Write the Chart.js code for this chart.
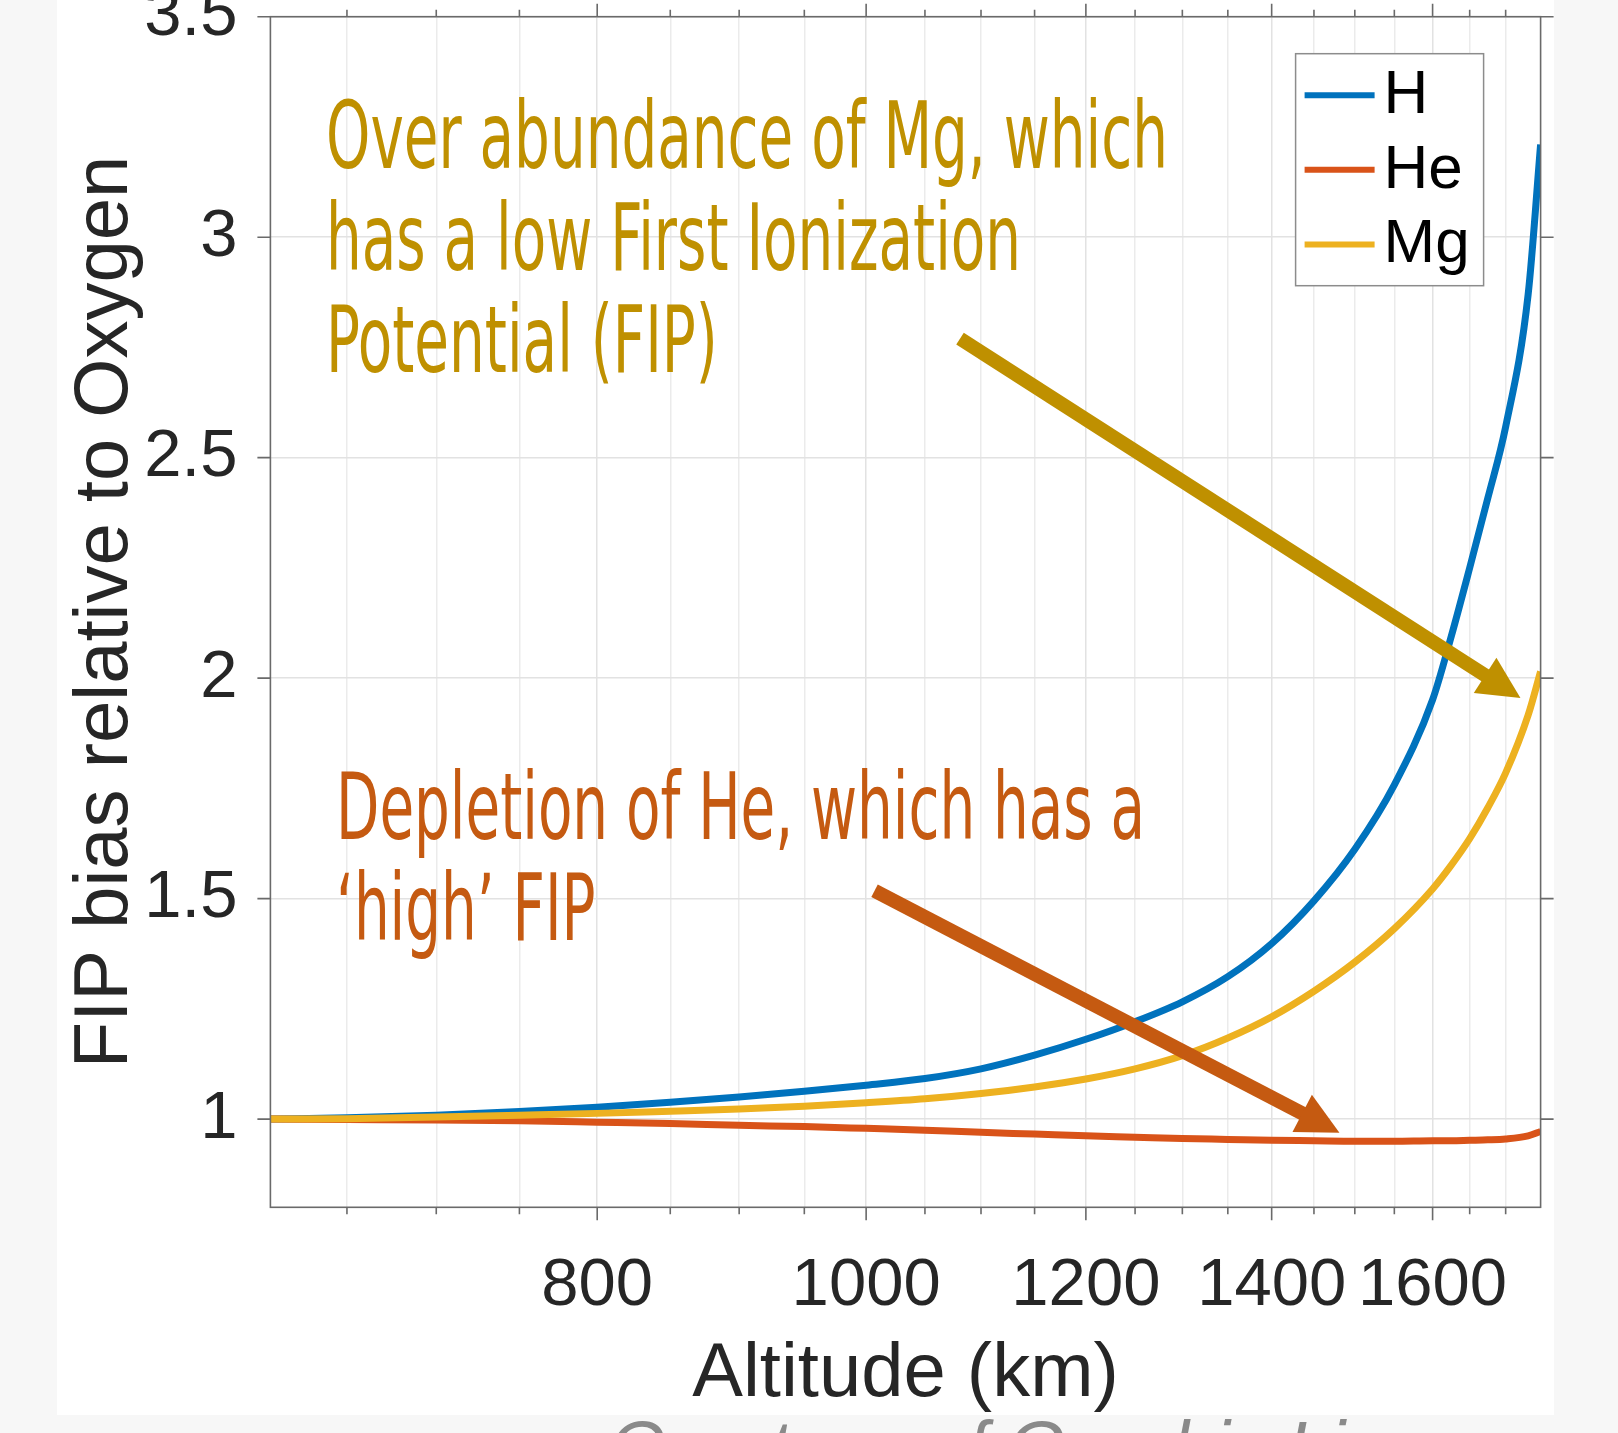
<!DOCTYPE html>
<html>
<head>
<meta charset="utf-8">
<script src="https://cdn.jsdelivr.net/npm/chart.js@4.4.1/dist/chart.umd.min.js"></script>
<style>
  html, body { margin: 0; padding: 0; }
  body { width: 1618px; height: 1433px; background: #f7f7f7; position: relative; overflow: hidden;
         font-family: "Liberation Sans", Arial, sans-serif; }
  #panel { position: absolute; left: 57px; top: 0; width: 1497px; height: 1415px; background: #fff; }
  #wrap { position: absolute; left: 0; top: 0; width: 1618px; height: 1433px; }
  .note { position: absolute; white-space: pre; font-family: "Liberation Sans Narrow", "DejaVu Sans Condensed", sans-serif;
          font-size: 93px; transform-origin: 0 0; z-index: 2; }
  #noteMg { color: #bf9000; left: 326px; top: 85px; line-height: 102px; }
  #noteHe { color: #c55a11; left: 336px; top: 757px; line-height: 101px; }
  #credit { position: absolute; left: 609px; top: 1412px; line-height: 72px; font-size: 74px; font-style: italic; color: #8a8a8a; }
</style>
</head>
<body>
<div id="panel"></div>
<div id="wrap"><canvas id="fipChart"></canvas></div>
<div id="noteMg" class="note"><span>Over abundance of Mg, which</span><br><span>has a low First Ionization</span><br><span>Potential (FIP)</span></div>
<div id="noteHe" class="note"><span>Depletion of He, which has a</span><br><span>‘high’ FIP</span></div>
<div id="credit">Courtesy of Graphic Li</div>
<script>
// altitude grid (km) and FIP bias of each element
const altitude = [610, 650, 700, 750, 800, 850, 900, 950, 1000, 1050, 1100, 1150, 1200, 1250, 1300, 1350, 1400, 1450, 1500, 1550, 1600, 1625, 1650, 1675, 1700, 1732, 1750];
const biasH  = [1.000, 1.003, 1.009, 1.017, 1.027, 1.038, 1.050, 1.063, 1.077, 1.092, 1.114, 1.145, 1.181, 1.221, 1.266, 1.323, 1.398, 1.495, 1.612, 1.758, 1.951, 2.095, 2.250, 2.408, 2.570, 2.870, 3.210];
const biasHe = [1.000, 0.999, 0.998, 0.996, 0.993, 0.990, 0.986, 0.983, 0.979, 0.975, 0.970, 0.966, 0.962, 0.959, 0.956, 0.954, 0.952, 0.951, 0.950, 0.950, 0.951, 0.951, 0.952, 0.953, 0.955, 0.962, 0.972];
const biasMg = [1.000, 1.001, 1.005, 1.009, 1.013, 1.018, 1.023, 1.029, 1.037, 1.046, 1.058, 1.073, 1.091, 1.114, 1.144, 1.184, 1.232, 1.290, 1.356, 1.432, 1.522, 1.576, 1.636, 1.706, 1.785, 1.916, 2.015];

const seriesNames = ["H", "He", "Mg"];
const seriesColors = ["#0072bd", "#d95319", "#edb120"];

// axis ticks
const xGridTicks = [650, 700, 750, 800, 850, 900, 950, 1000, 1050, 1100, 1150, 1200, 1250, 1300, 1350, 1400, 1450, 1500, 1550, 1600, 1650, 1700];
const xLabelTicks = [800, 1000, 1200, 1400, 1600];
const yTicks = [1, 1.5, 2, 2.5, 3, 3.5];

function pts(ys) {
  return altitude.map((a, i) => ({ x: a, y: ys[i] }));
}

// box, mirrored ticks, arrows and legend (matlab style)
const decor = {
  id: "decor",
  afterDatasetsDraw(chart, args, opts) {
    const { ctx, chartArea: ca, scales } = chart;
    const sx = scales.x, sy = scales.y;
    ctx.save();
    ctx.strokeStyle = "#6a6a6a";
    ctx.lineWidth = 1.6;
    ctx.strokeRect(ca.left, ca.top, ca.right - ca.left, ca.bottom - ca.top);
    ctx.beginPath();
    xGridTicks.forEach(v => {
      const px = sx.getPixelForValue(v);
      const len = xLabelTicks.includes(v) ? 13 : 7;
      ctx.moveTo(px, ca.bottom); ctx.lineTo(px, ca.bottom + len);
      ctx.moveTo(px, ca.top); ctx.lineTo(px, ca.top - len);
    });
    yTicks.forEach(v => {
      const py = sy.getPixelForValue(v);
      ctx.moveTo(ca.left, py); ctx.lineTo(ca.left - 13, py);
      ctx.moveTo(ca.right, py); ctx.lineTo(ca.right + 13, py);
    });
    ctx.stroke();

    // annotation arrows
    opts.arrows.forEach(a => {
      const x0 = sx.getPixelForValue(a.from[0]), y0 = sy.getPixelForValue(a.from[1]);
      const x1 = sx.getPixelForValue(a.to[0]), y1 = sy.getPixelForValue(a.to[1]);
      const ang = Math.atan2(y1 - y0, x1 - x0);
      const hl = 42, hw = 21;
      const bx = x1 - hl * Math.cos(ang), by = y1 - hl * Math.sin(ang);
      ctx.strokeStyle = a.color;
      ctx.fillStyle = a.color;
      ctx.lineWidth = 14;
      ctx.lineCap = "butt";
      ctx.beginPath();
      ctx.moveTo(x0, y0); ctx.lineTo(bx + 2 * Math.cos(ang), by + 2 * Math.sin(ang));
      ctx.stroke();
      ctx.beginPath();
      ctx.moveTo(x1, y1);
      ctx.lineTo(bx + hw * Math.sin(ang), by - hw * Math.cos(ang));
      ctx.lineTo(bx - hw * Math.sin(ang), by + hw * Math.cos(ang));
      ctx.closePath();
      ctx.fill();
    });
    ctx.restore();
  },
  afterDraw(chart) {
    const { ctx, chartArea: ca } = chart;
    const bx = ca.right - 245, by = ca.top + 37, bw = 188, bh = 232;
    ctx.save();
    ctx.fillStyle = "#fff";
    ctx.fillRect(bx, by, bw, bh);
    ctx.strokeStyle = "#8c8c8c";
    ctx.lineWidth = 1.5;
    ctx.strokeRect(bx, by, bw, bh);
    ctx.font = '62px "Liberation Sans", Arial, sans-serif';
    ctx.textBaseline = "middle";
    chart.data.datasets.forEach((ds, i) => {
      const ly = by + 41.5 + i * 74.6;
      ctx.strokeStyle = ds.borderColor;
      ctx.lineWidth = 6;
      ctx.beginPath();
      ctx.moveTo(bx + 9, ly); ctx.lineTo(bx + 79, ly);
      ctx.stroke();
      ctx.fillStyle = "#000";
      ctx.fillText(ds.label, bx + 88, ly + 1);
    });
    ctx.restore();
  }
};

const tickFont = { family: '"Liberation Sans", Arial, sans-serif', size: 67 };
const titleFont = { family: '"Liberation Sans", Arial, sans-serif', size: 76 };

new Chart(document.getElementById("fipChart"), {
  type: "line",
  data: {
    datasets: [
      { label: seriesNames[0], data: pts(biasH), borderColor: seriesColors[0], order: 3 },
      { label: seriesNames[1], data: pts(biasHe), borderColor: seriesColors[1], order: 2 },
      { label: seriesNames[2], data: pts(biasMg), borderColor: seriesColors[2], order: 1 },
    ],
  },
  options: {
    responsive: true,
    maintainAspectRatio: false,
    animation: false,
    layout: { padding: { left: 0, top: 16.7, right: 77.4, bottom: 0 } },
    elements: {
      line: { borderWidth: 7, tension: 0, cubicInterpolationMode: "monotone", fill: false, borderJoinStyle: "round" },
      point: { radius: 0, hoverRadius: 0 },
    },
    plugins: {
      legend: { display: false },
      tooltip: { enabled: false },
      decor: {
        arrows: [
          { from: [1081, 2.770], to: [1721, 1.955], color: "#bf9000" },
          { from: [1007, 1.518], to: [1481, 0.969], color: "#c55a11" },
        ],
      },
    },
    scales: {
      x: {
        type: "logarithmic",
        min: 610,
        max: 1750,
        afterBuildTicks: s => { s.ticks = xGridTicks.map(v => ({ value: v })); },
        afterFit: s => { s.height = 225.7; s.paddingLeft = 0; s.paddingRight = 0; },
        ticks: {
          autoSkip: false, maxRotation: 0, minRotation: 0, padding: 39, color: "#262626", font: tickFont,
          callback: v => (xLabelTicks.includes(v) ? String(v) : ""),
        },
        grid: {
          color: c => (c.tick && xLabelTicks.includes(c.tick.value) ? "#e2e2e2" : "#ebebeb"),
          lineWidth: 1.5, drawTicks: false,
        },
        border: { display: false },
        title: { display: true, text: "Altitude (km)", color: "#262626", font: titleFont, padding: { top: 0, bottom: 12.5 } },
      },
      y: {
        type: "linear",
        min: 0.8,
        max: 3.5,
        afterBuildTicks: s => { s.ticks = yTicks.map(v => ({ value: v })); },
        afterFit: s => { s.width = 270.4; s.paddingTop = 0; s.paddingBottom = 0; },
        ticks: { padding: 33, color: "#262626", font: tickFont, callback: v => String(v) },
        grid: { color: "#e2e2e2", lineWidth: 1.5, drawTicks: false },
        border: { display: false },
        title: { display: true, text: "FIP bias relative to Oxygen", color: "#262626", font: titleFont, padding: { top: 60, bottom: 0 } },
      },
    },
  },
  plugins: [decor],
});

// squeeze the condensed annotation text to the widths in the figure
function fitNote(id, target) {
  const el = document.getElementById(id);
  const w = el.querySelector("span").getBoundingClientRect().width;
  el.style.transform = "scaleX(" + (target / w) + ")";
}
fitNote("noteMg", 842);
fitNote("noteHe", 809);
</script>
</body>
</html>
